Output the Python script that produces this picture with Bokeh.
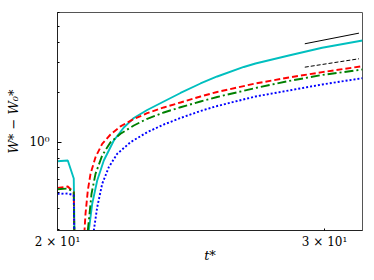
from bokeh.plotting import figure
from bokeh.models import FixedTicker, Range1d
from bokeh.embed import file_html
from bokeh.resources import INLINE

# ---- data ----
t_cyan = [20.0, 20.315, 20.5, 20.75, 20.973, 21.082, 21.243, 21.457, 21.785, 22.118, 22.457,
          22.918, 23.503, 24.107, 24.85, 25.488, 26.538, 27.014, 28.416, 29.892, 31.78]
w_cyan = [0.768, 0.776, 0.604, 1e-4, 0.2938, 0.4255, 0.5878, 0.7757, 1.0239, 1.2262, 1.3987,
          1.5634, 1.7587, 1.9789, 2.2573, 2.4872, 2.838, 2.979, 3.329, 3.7048, 4.10]

t_red = [20.0, 20.315, 20.5, 20.75, 20.837, 20.869, 20.942, 21.028, 21.188, 21.404, 21.676,
         22.008, 22.457, 22.918, 23.503, 24.107, 24.85, 25.488, 27.014, 28.416, 29.892, 31.78]
w_red = [0.531, 0.541, 0.50, 1e-4, 0.2938, 0.3704, 0.5118, 0.6449, 0.8121, 0.978, 1.1127,
         1.2468, 1.3796, 1.4955, 1.6187, 1.7345, 1.8853, 2.0066, 2.2573, 2.453, 2.6408, 2.8696]

t_green = [20.0, 20.315, 20.5, 20.75, 20.942, 20.996, 21.06, 21.188, 21.404, 21.676, 22.008,
           22.457, 22.918, 23.503, 24.107, 24.85, 25.488, 27.014, 28.416, 29.892, 31.78]
w_green = [0.521, 0.526, 0.50, 1e-4, 0.2938, 0.3704, 0.4889, 0.6449, 0.8315, 1.0, 1.1236,
           1.2606, 1.3833, 1.5101, 1.6232, 1.7587, 1.8723, 2.1209, 2.3368, 2.5395, 2.7407]

t_blue = [20.0, 20.315, 20.5, 20.75, 21.133, 21.243, 21.404, 21.62, 21.898, 22.344, 22.918,
          23.503, 24.107, 24.85, 25.488, 27.014, 28.416, 29.892, 31.78]
w_blue = [0.489, 0.491, 0.48, 1e-4, 0.2938, 0.406, 0.5615, 0.7071, 0.8515, 1.0, 1.1489,
          1.2783, 1.3987, 1.5419, 1.6521, 1.8853, 2.0478, 2.2268, 2.4304]

t_ref = [29.114, 31.61]
w_ref_solid = [3.915, 4.536]
w_ref_dashed = [2.83, 3.18]

x_ticks = [20, 30]
x_tick_labels = ["2 × 10¹", "3 × 10¹"]
y_ticks = [1]
y_tick_labels = ["10⁰"]
y_minor = [0.3, 0.4, 0.5, 0.6, 0.7, 0.8, 0.9, 2, 3, 4, 5, 6]

FONT = "DejaVu Serif"

p = figure(width=374, height=280, x_axis_type="log", y_axis_type="log",
           output_backend="svg", toolbar_location=None,
           x_range=Range1d(20.0, 31.78), y_range=Range1d(0.294, 6.04),
           min_border_left=57, min_border_right=12, min_border_top=12, min_border_bottom=50)

p.line(t_cyan, w_cyan, line_color="#00bfbf", line_width=1.9)
p.line(t_red, w_red, line_color="#ff0000", line_width=1.9, line_dash="6 3")
p.line(t_green, w_green, line_color="#008000", line_width=1.9, line_dash="9 3 2 3")
p.line(t_blue, w_blue, line_color="#0000ff", line_width=1.9, line_dash="2 2")
p.line(t_ref, w_ref_solid, line_color="black", line_width=1)
p.line(t_ref, w_ref_dashed, line_color="black", line_width=1, line_dash="4 2")

p.grid.visible = False
p.outline_line_color = "#555555"
p.outline_line_width = 1

p.xaxis.ticker = FixedTicker(ticks=x_ticks)
p.xaxis.major_label_overrides = dict(zip(x_ticks, x_tick_labels))
p.yaxis.ticker = FixedTicker(ticks=y_ticks, minor_ticks=y_minor)
p.yaxis.major_label_overrides = dict(zip(y_ticks, y_tick_labels))

for ax in (p.xaxis, p.yaxis):
    ax.axis_line_color = "#222222"
    ax.major_tick_out = 0
    ax.minor_tick_out = 0
    ax.minor_tick_in = 2
    ax.major_label_text_font = FONT
    ax.major_label_text_font_size = "12px"
    ax.major_label_text_color = "black"
    ax.axis_label_text_font = FONT
    ax.axis_label_text_font_style = "italic"
    ax.axis_label_text_font_size = "13px"
    ax.axis_label_text_color = "black"

p.xaxis.major_tick_in = 2
p.yaxis.major_tick_in = 4
p.xaxis.major_label_standoff = 4
p.yaxis.major_label_standoff = 8
p.xaxis.axis_label = "t*"
p.yaxis.axis_label = "W* − W₀*"
p.xaxis.axis_label_standoff = -4
p.yaxis.axis_label_standoff = 5

open("out.html", "w").write(file_html(p, INLINE))
